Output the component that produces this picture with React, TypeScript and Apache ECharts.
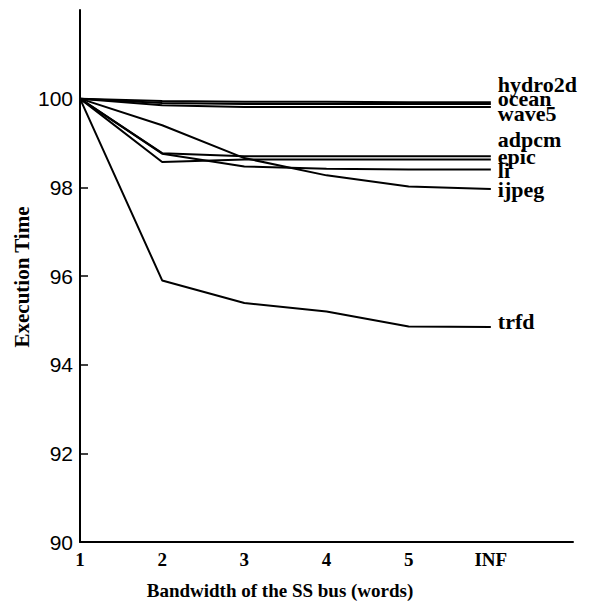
import React, { useEffect, useRef } from "react";
import * as echarts from "echarts";

const xLabels = ["1", "2", "3", "4", "5", "INF"];
const seriesNames = ["hydro2d", "ocean", "wave5", "adpcm", "epic", "li", "ijpeg", "trfd"];
const hydro2d = [100, 99.95, 99.93, 99.93, 99.92, 99.92];
const ocean = [100, 99.9, 99.88, 99.88, 99.88, 99.88];
const wave5 = [100, 99.85, 99.81, 99.81, 99.81, 99.81];
const adpcm = [100, 98.77, 98.7, 98.7, 98.7, 98.7];
const epic = [100, 98.57, 98.63, 98.63, 98.63, 98.63];
const li = [100, 98.76, 98.47, 98.42, 98.4, 98.4];
const ijpeg = [100, 99.4, 98.66, 98.27, 98.02, 97.96];
const trfd = [100, 95.9, 95.39, 95.2, 94.86, 94.85];
const yTicks = [90, 92, 94, 96, 98, 100];

const seriesData = [hydro2d, ocean, wave5, adpcm, epic, li, ijpeg, trfd];
const labelOffsets: number[][] = [
  [0, -18],
  [0, -5],
  [0, 6],
  [0, -17],
  [0, -3],
  [0, 1],
  [0, 0],
  [0, -5],
];

export default function App() {
  const ref = useRef<HTMLDivElement>(null);
  useEffect(() => {
    document.body.style.margin = "0";
    const chart = echarts.init(ref.current!, null, { renderer: "svg" });
    const serif = "'Liberation Serif', 'Times New Roman', serif";
    chart.setOption({
      animation: false,
      backgroundColor: "#ffffff",
      grid: { left: 80, right: 25, top: 10, bottom: 60 },
      xAxis: {
        type: "value",
        min: 1,
        max: 7,
        interval: 1,
        axisLine: { lineStyle: { color: "#000", width: 2 } },
        axisTick: { show: false },
        splitLine: { show: false },
        axisLabel: {
          customValues: [1, 2, 3, 4, 5, 6],
          formatter: (v: number) => xLabels[v - 1] ?? "",
          color: "#000",
          fontFamily: serif,
          fontWeight: "bold",
          fontSize: 19,
          margin: 8,
        },
      },
      yAxis: {
        type: "value",
        min: 90,
        max: 102,
        interval: 2,
        axisLine: { show: true, lineStyle: { color: "#000", width: 2 } },
        axisTick: {
          show: true,
          inside: true,
          length: 8,
          customValues: yTicks,
          lineStyle: { color: "#000", width: 1.5 },
        },
        splitLine: { show: false },
        axisLabel: {
          customValues: yTicks,
          color: "#000",
          fontFamily: "'Liberation Sans', Arial, sans-serif",
          fontSize: 21,
          margin: 7,
        },
      },
      graphic: [
        {
          type: "text",
          x: 280,
          y: 590,
          style: {
            text: "Bandwidth of the SS bus (words)",
            fontFamily: serif,
            fontWeight: "bold",
            fontSize: 19,
            fill: "#000",
            align: "center",
            verticalAlign: "middle",
          },
        },
        {
          type: "text",
          x: 22,
          y: 277,
          rotation: Math.PI / 2,
          style: {
            text: "Execution Time",
            fontFamily: serif,
            fontWeight: "bold",
            fontSize: 21,
            fill: "#000",
            align: "center",
            verticalAlign: "middle",
          },
        },
      ],
      series: seriesNames.map((name, i) => ({
        name,
        type: "line",
        data: seriesData[i].map((v, j) => [j + 1, v]),
        symbol: "none",
        lineStyle: { color: "#000", width: 2 },
        endLabel: {
          show: true,
          formatter: name,
          color: "#000",
          fontFamily: serif,
          fontWeight: "bold",
          fontSize: 22,
          distance: 7,
          offset: labelOffsets[i],
        },
      })),
    });
    return () => chart.dispose();
  }, []);
  return <div ref={ref} style={{ width: 598, height: 602 }} />;
}
